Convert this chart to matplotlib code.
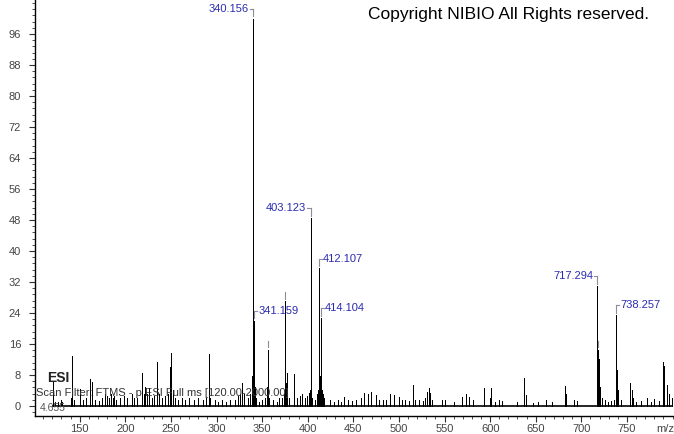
import matplotlib
matplotlib.use("Agg")
import matplotlib.pyplot as plt
from matplotlib.ticker import MultipleLocator

plt.rcParams['font.family'] = ['Liberation Sans', 'DejaVu Sans']

# ---- data ----
peak_mz = [
    121.2, 123, 126, 129, 130.5, 141, 142, 144, 150, 154, 157, 161, 163.5, 167, 171, 174,
    178, 180, 182, 184, 186, 188, 190, 194, 199, 202, 207, 210, 213, 218.6, 221, 222, 224,
    226, 229, 232, 235, 237, 240, 244, 247, 249, 250, 252, 254, 258, 262, 266, 270, 275,
    280, 285, 288, 292, 293, 298, 302, 306, 310, 315, 320, 324, 326, 328, 330, 334, 337,
    339, 340.156, 341.159, 342, 343, 347, 350, 353, 355, 356.2, 357, 358, 362, 366, 369,
    372, 374, 375.2, 376, 377.5, 380, 385, 388, 391, 394, 397, 399, 401, 402, 403.123,
    404.1, 405, 408, 410, 411, 412.107, 413.1, 414.104, 415, 416, 417, 418, 424.5, 429,
    433, 436, 439.7, 444, 449, 453, 458, 462, 466, 469, 475, 478, 482, 486, 490, 495, 500,
    503, 507, 511, 515, 518, 522, 526, 529, 531, 533, 534, 536, 547, 550, 560, 569, 574,
    577, 581, 593, 600, 601, 605, 610, 613, 630, 637, 639, 647, 653, 661, 668, 682, 683,
    692, 695, 717.294, 718.3, 719.3, 721, 723, 726, 729, 733, 736, 738.257, 739.3, 740.3,
    744, 753, 755, 757, 760, 765, 772, 776, 780, 785, 789, 791, 794, 796, 799,
]
peak_int = [
    6.5, 1.0, 1.0, 1.5, 1.0, 2.0, 12.9, 1.5, 4.4, 1.5, 2.0, 7.0, 6.2, 1.5, 1.2, 2.0,
    3.0, 2.5, 2.0, 3.0, 2.0, 2.5, 1.5, 2.0, 2.5, 2.0, 3.0, 2.0, 2.0, 8.5, 3.0, 4.9, 3.0,
    4.5, 2.0, 2.5, 11.4, 3.0, 2.0, 2.5, 3.0, 10.0, 13.7, 4.0, 2.0, 1.5, 2.0, 1.5, 2.0, 1.5,
    2.0, 1.5, 2.0, 13.4, 2.0, 1.5, 1.0, 1.5, 1.0, 1.5, 1.5, 2.5, 3.0, 6.0, 3.0, 2.0, 3.0,
    7.7, 100.0, 22.0, 5.0, 2.0, 1.0, 1.5, 2.0, 5.0, 14.5, 4.0, 2.0, 1.5, 1.0, 2.0,
    2.0, 3.0, 27.0, 6.0, 8.5, 2.0, 8.3, 2.0, 2.5, 3.0, 2.0, 2.5, 3.4, 4.0, 48.5,
    8.8, 2.0, 1.5, 3.0, 4.0, 35.5, 7.7, 22.7, 6.0, 4.0, 3.0, 2.0, 1.5, 1.0,
    1.5, 1.0, 2.3, 1.5, 1.2, 1.5, 2.0, 3.4, 3.0, 3.6, 2.8, 1.5, 1.5, 1.5, 3.0, 2.8, 2.4,
    1.5, 1.5, 1.2, 5.4, 1.5, 1.5, 1.2, 2.0, 3.6, 4.6, 3.3, 1.5, 1.5, 1.5, 1.0, 2.3, 3.0,
    2.2, 1.5, 4.6, 2.0, 4.6, 1.0, 1.5, 1.2, 1.0, 7.2, 2.8, 0.8, 1.0, 1.5, 1.0, 5.2, 3.0,
    1.5, 1.2, 31.0, 14.5, 12.0, 5.0, 2.0, 1.5, 1.0, 1.2, 1.5, 23.5, 9.3, 4.0,
    1.5, 5.9, 4.0, 2.0, 1.0, 1.2, 2.0, 1.0, 1.8, 1.2, 11.3, 10.3, 5.4, 3.0, 2.0,
]
scan_range = [120.0, 800.0]

label_mz = [340.156, 341.159, 403.123, 412.107, 414.104, 717.294, 738.257]
label_text = ["340.156", "341.159", "403.123", "412.107", "414.104", "717.294", "738.257"]
label_side = ["left", "right", "left", "right", "right", "left", "right"]
marker_mz = [356.2, 375.2, 718.3]

x_ticks = [150, 200, 250, 300, 350, 400, 450, 500, 550, 600, 650, 700, 750]
y_ticks = [0, 8, 16, 24, 32, 40, 48, 56, 64, 72, 80, 88, 96]
x_unit_label = "m/z"
x_unit_pos = 792

# ---- figure ----
fig = plt.figure(figsize=(6.74, 4.34), dpi=100)
ax = fig.add_axes([35 / 674, 18 / 434, 638 / 674, 416 / 434])
ax.set_xlim(101, 800.5)
ax.set_ylim(-2.6, 104.8)

# background texts (drawn under spectrum)
fig.text(47 / 674, 1 - 378 / 434, "ESI", fontsize=10, color="#222222",
         va="center", ha="left", fontweight="bold", zorder=1)
fig.text(36 / 674, 1 - 393 / 434, "Scan Filter: FTMS - p ESI Full ms [120.00-2000.00]",
         fontsize=8, color="#333333", va="center", ha="left", zorder=1)
fig.text(40 / 674, 1 - 408 / 434, "4.655", fontsize=7.5, color="#555555",
         va="center", ha="left", zorder=1)

ax.hlines(0, scan_range[0], scan_range[1], color="black", lw=1.2, zorder=3)
ax.vlines(peak_mz, 0, peak_int, color="black", lw=0.72, zorder=3, antialiased=False)

lookup = dict(zip(peak_mz, peak_int))
bracket_col = "#8c8c9c"
for mz, txt, side in zip(label_mz, label_text, label_side):
    h = lookup[mz]
    top = h + 2.5
    ax.plot([mz, mz], [h + 0.6, top], color=bracket_col, lw=0.8, zorder=4)
    if side == "left":
        ax.plot([mz, mz - 3.5], [top, top], color=bracket_col, lw=0.8, zorder=4)
        ax.text(mz - 4.5, top, txt, color="#2b2bb0", fontsize=8, ha="right",
                va="center", zorder=4)
    else:
        ax.plot([mz, mz + 3.5], [top, top], color=bracket_col, lw=0.8, zorder=4)
        ax.text(mz + 4.5, top, txt, color="#2b2bb0", fontsize=8, ha="left",
                va="center", zorder=4)
for mz in marker_mz:
    h = lookup[mz]
    ax.plot([mz, mz], [h + 0.6, h + 2.3], color=bracket_col, lw=0.8, zorder=4)

fig.text(368 / 674, 1 - 15 / 434, "Copyright NIBIO All Rights reserved.",
         fontsize=12.5, color="black", ha="left", va="center")

# axes styling
for s in ["top", "right"]:
    ax.spines[s].set_visible(False)
for s in ["left", "bottom"]:
    ax.spines[s].set_color("black")
    ax.spines[s].set_linewidth(1.0)

ax.set_xticks(x_ticks)
ax.set_yticks(y_ticks)
ax.xaxis.set_minor_locator(MultipleLocator(10))
ax.yaxis.set_minor_locator(MultipleLocator(1.6))
ax.tick_params(axis="both", which="major", direction="out", length=4, width=0.8,
               labelsize=8, labelcolor="#444444", color="#333333")
ax.tick_params(axis="both", which="minor", direction="out", length=2.5, width=0.6,
               color="#333333")
ax.tick_params(axis="x", pad=2)
ax.tick_params(axis="y", pad=6)
ax.annotate(x_unit_label, xy=(x_unit_pos, 0), xycoords=("data", "axes fraction"),
            xytext=(0, -6), textcoords="offset points", fontsize=8,
            color="#444444", ha="center", va="top", annotation_clip=False)
ax.set_facecolor("white")
fig.patch.set_facecolor("white")

fig.savefig("out.png", dpi=100)
